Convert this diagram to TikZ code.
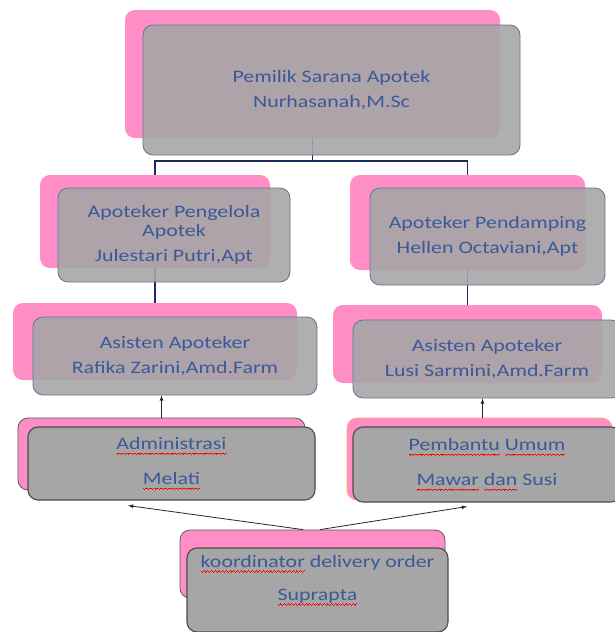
\documentclass[tikz,border=0pt]{standalone}
\usepackage{fontspec}
\usetikzlibrary{arrows,calc}
\newfontfamily\boxfont{Carlito}[FakeStretch=1.25]
\definecolor{org_pink}{HTML}{FF8EC6}
\definecolor{org_frame}{HTML}{5D7596}
\definecolor{org_text}{HTML}{3B5999}
\definecolor{org_navy}{HTML}{1B2A5E}
\colorlet{orgpink}{org_pink}
% red wavy line under a word
\newcommand\typo[1]{\setbox0\hbox{#1}\rlap{\textcolor{red}{\hbox to \wd0{\xleaders\hbox{\rule[-4.6pt]{.9pt}{.7pt}\rule[-5.2pt]{.9pt}{.7pt}\rule[-4.6pt]{.9pt}{.7pt}\rule[-4pt]{.9pt}{.7pt}}\hfil}}}\box0\relax}
\tikzset{
  back/.style={rectangle,rounded corners=10pt,fill=orgpink,draw=none},
  backl/.style={back,draw=black!65,thick},
  front/.style={rectangle,rounded corners=10pt,fill=gray!70,fill opacity=.9,text opacity=1,
    draw=org_frame,thick,text=org_text,align=center,inner sep=0pt,
    font=\boxfont\fontsize{17.5}{19}\selectfont},
  frontl/.style={front,fill opacity=1,draw=black!70,line width=1.1pt},
  link/.style={draw=org_navy,line width=1.6pt},
  arr/.style={-latex,black!85,line width=.8pt},
}
\begin{document}
\begin{tikzpicture}[x=1pt,y=-1pt]
  \useasboundingbox (0,0) rectangle (614,632);
  % pink boxes
  \node[back,minimum width=375pt,minimum height=128pt] (psa) at (312.5,74) {};
  \node[back,minimum width=230pt,minimum height=93pt] (apa) at (155,221.5) {};
  \node[back,minimum width=235pt,minimum height=95pt] (app) at (467.5,222.5) {};
  \node[back,minimum width=284pt,minimum height=77pt] (aa1) at (155,341.5) {};
  \node[back,minimum width=269pt,minimum height=78pt] (aa2) at (467.5,344) {};
  \node[backl,minimum width=287pt,minimum height=72pt] (adm) at (161.5,454) {};
  \node[back,draw=orange!60,thick,minimum width=265pt,minimum height=82pt] (pu) at (479.5,459) {};
  \node[backl,minimum width=265pt,minimum height=68pt] (kdo) at (312.5,564) {};
  % lines
  \draw[link] (psa.south) -- ++(0,23) -| (apa.north);
  \draw[link] (psa.south) -- ++(0,23) -| (app.north);
  \draw[link] (apa.south) -- (aa1.north);
  \draw[link] (app.south) -- (aa2.north);
  % gray boxes
  \node[front,minimum width=377pt,minimum height=130pt] (psa-f) at ($(psa)+(19,16)$)
    {Pemilik Sarana Apotek\\[6pt]Nurhasanah,M.Sc};
  \node[front,minimum width=232pt,minimum height=94pt] (apa-f) at ($(apa)+(19,13.5)$)
    {Apoteker Pengelola\\Apotek\\[6pt]Julestari Putri,Apt};
  \node[front,minimum width=235pt,minimum height=97pt] (app-f) at ($(app)+(20,14)$)
    {Apoteker Pendamping\\[6pt]Hellen Octaviani,Apt};
  \node[front,minimum width=284pt,minimum height=78pt] (aa1-f) at ($(aa1)+(20,14.5)$)
    {Asisten Apoteker\\[6pt]Rafika Zarini,Amd.Farm};
  \node[front,minimum width=268pt,minimum height=78pt] (aa2-f) at ($(aa2)+(19.5,15)$)
    {Asisten Apoteker\\[6pt]Lusi Sarmini,Amd.Farm};
  \node[frontl,minimum width=287pt,minimum height=73pt] (adm-f) at ($(adm)+(10,9.5)$)
    {\typo{Administrasi}\\[16pt]\typo{Melati}};
  \node[frontl,minimum width=268pt,minimum height=75pt] (pu-f) at ($(pu)+(7.5,5.5)$)
    {\typo{Pembantu} \typo{Umum}\\[16pt]\typo{Mawar} \typo{dan} Susi};
  \node[frontl,minimum width=261pt,minimum height=84pt] (kdo-f) at ($(kdo)+(5,26)$)
    {\typo{koordinator} delivery order\\[14pt]\typo{Suprapta}\\[6pt]};
  % arrows
  \draw[arr] (adm.north) -- (adm.north |- aa1-f.south);
  \draw[arr] ([xshift=3pt]pu.north) -- ([xshift=3pt]pu.north |- aa2-f.south);
  \draw[arr] ([xshift=-9.5pt]kdo.north) -- ([xshift=-43.5pt,yshift=-5pt]adm-f.south);
  \draw[arr] ([xshift=7.5pt]kdo.north) -- ([xshift=-20pt,yshift=-4pt]pu-f.south);
\end{tikzpicture}
\end{document}
